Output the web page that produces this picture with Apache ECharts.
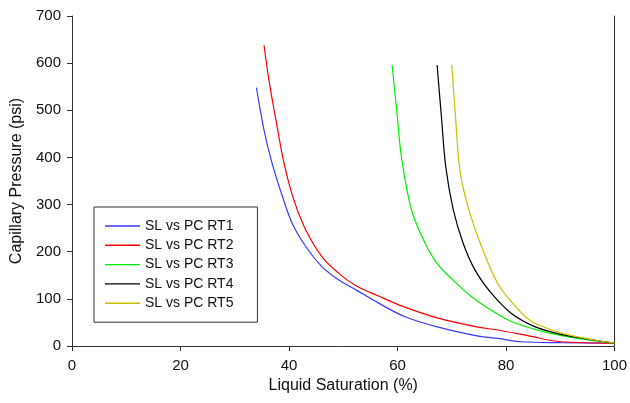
<!DOCTYPE html>
<html>
<head>
<meta charset="utf-8">
<script src="https://cdn.jsdelivr.net/npm/echarts@6/dist/echarts.min.js"></script>
<style>html,body{margin:0;padding:0;background:#fff;}#c{width:630px;height:403px;}</style>
</head>
<body>
<div id="c"></div>
<script>
var seriesNames = ['SL vs PC RT1', 'SL vs PC RT2', 'SL vs PC RT3', 'SL vs PC RT4', 'SL vs PC RT5'];
var rt1X = [34.0, 35.4, 36.9, 38.8, 40.6, 43.1, 46.1, 49.2, 52.5, 56.5, 61.4, 67.5, 74.9, 78.5, 82.8, 90.1, 100];
var rt1Y = [548, 458, 387, 317, 260, 211, 168, 140, 118, 91, 62, 40, 21, 16, 9, 7, 6];
var rt2X = [35.4, 36.3, 37.6, 39.1, 40.9, 43.1, 46.1, 49.2, 52.2, 56.5, 61.0, 67.5, 74.9, 78.5, 84.0, 90.1, 100];
var rt2Y = [638, 564, 479, 387, 310, 246, 189, 154, 129, 106, 84, 59, 40, 34, 22, 9, 6];
var rt3X = [59.0, 59.9, 60.8, 62.6, 65.1, 67.5, 70.6, 73.6, 76.7, 81.0, 87.1, 93.2, 100];
var rt3Y = [596, 494, 395, 288, 218, 172, 136, 105, 80, 52, 30, 16, 6];
var rt4X = [67.3, 68.1, 68.9, 70.3, 72.1, 74.3, 77.3, 81.0, 85.3, 89.0, 93.2, 100];
var rt4Y = [596, 486, 380, 288, 218, 161, 112, 69, 41, 28, 18, 6];
var rt5X = [70.0, 70.7, 71.5, 73.0, 75.5, 78.6, 82.2, 84.0, 85.9, 90.1, 96.3, 100];
var rt5Y = [596, 486, 373, 295, 211, 130, 78, 58, 45, 28, 12.7, 6];
var xTicks = [0, 20, 40, 60, 80, 100];
var yTicks = [0, 100, 200, 300, 400, 500, 600, 700];
var colors = ['#3a3aff', '#ff0000', '#00ee00', '#000000', '#c8c000'];

function pairs(xs, ys) { return xs.map(function (x, i) { return [x, ys[i]]; }); }
var allX = [rt1X, rt2X, rt3X, rt4X, rt5X];
var allY = [rt1Y, rt2Y, rt3Y, rt4Y, rt5Y];

var chart = echarts.init(document.getElementById('c'), null, {renderer: 'canvas'});
var font = 'Arial, "Liberation Sans", sans-serif';
chart.setOption({
  animation: false,
  color: colors,
  grid: {left: 72, right: 13, top: 16, bottom: 57, containLabel: false},
  legend: {
    orient: 'vertical', left: 94, top: 207,
    padding: [12, 24, 12, 11],
    borderColor: '#333', borderWidth: 1, borderRadius: 0,
    itemWidth: 35, itemHeight: 14, itemGap: 5.3,
    icon: 'path://M0,0h35v1.4h-35z',
    textStyle: {fontFamily: font, fontSize: 14, color: '#111', lineHeight: 14},
    data: seriesNames
  },
  xAxis: {
    type: 'value', min: 0, max: 100, interval: 20,
    name: 'Liquid Saturation (%)', nameLocation: 'middle', nameGap: 31,
    nameTextStyle: {fontFamily: font, fontSize: 16, color: '#111'},
    axisLine: {show: true, onZero: false, lineStyle: {color: '#333', width: 1}},
    axisTick: {show: true, length: 5, lineStyle: {color: '#333'}},
    axisLabel: {fontFamily: font, fontSize: 15, color: '#111', margin: 12,
      formatter: function (v) { return xTicks.indexOf(v) >= 0 ? String(v) : ''; }},
    splitLine: {show: false}
  },
  yAxis: [{
    type: 'value', min: 0, max: 700, interval: 100,
    name: 'Capillary Pressure (psi)', nameLocation: 'middle', nameGap: 45,
    nameTextStyle: {fontFamily: font, fontSize: 16, color: '#111'},
    axisLine: {show: true, onZero: false, lineStyle: {color: '#333', width: 1}},
    axisTick: {show: true, length: 5, lineStyle: {color: '#333'}},
    axisLabel: {fontFamily: font, fontSize: 15, color: '#111', margin: 11,
      formatter: function (v) { return yTicks.indexOf(v) >= 0 ? String(v) : ''; }},
    splitLine: {show: false}
  }, {
    type: 'value', min: 0, max: 700, position: 'right',
    axisLine: {show: true, onZero: false, lineStyle: {color: '#333', width: 1}},
    axisTick: {show: false}, axisLabel: {show: false}, splitLine: {show: false}
  }],
  series: seriesNames.map(function (n, i) {
    return {
      name: n, type: 'line', yAxisIndex: 0,
      data: pairs(allX[i], allY[i]),
      symbol: 'none', smooth: 0.35,
      lineStyle: {width: 1.2, color: colors[i]},
      itemStyle: {color: colors[i]}
    };
  })
});
</script>
</body>
</html>
